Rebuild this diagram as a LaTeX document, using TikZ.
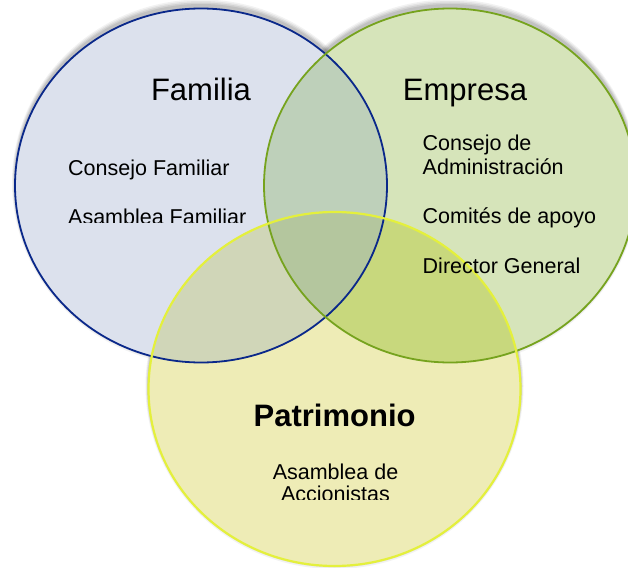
\documentclass[tikz,border=0pt]{standalone}
\usepackage{fontspec}
\setmainfont{Liberation Sans}
\definecolor{famfill}{RGB}{220,225,237}
\definecolor{famline}{RGB}{10,40,138}
\definecolor{empfill}{RGB}{214,228,186}
\definecolor{empline}{RGB}{118,163,30}
\definecolor{patfill}{RGB}{238,236,182}
\definecolor{patline}{RGB}{228,240,60}
\definecolor{fe}{RGB}{190,208,186}
\definecolor{fp}{RGB}{208,214,184}
\definecolor{ep}{RGB}{200,216,125}
\definecolor{fep}{RGB}{180,198,158}
\tikzset{
  title/.style={font=\fontsize{31}{36}\selectfont, inner sep=0pt, anchor=base},
  item/.style={font=\fontsize{21.5}{23.5}\selectfont, inner sep=0pt, anchor=base west},
  itemc/.style={font=\fontsize{21.5}{23.5}\selectfont, inner sep=0pt, anchor=base},
}
\begin{document}
\begin{tikzpicture}[x=1pt,y=-1pt]
\fill[white] (0,0) rectangle (628,567);
\clip (0,0) rectangle (628,567);
\def\rx{186}\def\ry{177}
\coordinate (cf) at (201,185.5);
\coordinate (ce) at (450,185.5);
\coordinate (cp) at (334.5,389);
% soft shadows
\foreach \d/\o in {6/0.05,4.5/0.06,3/0.07,1.5/0.08}{
  \fill[black,opacity=\o] ([yshift=3]cf) ellipse [x radius=\rx+\d*0.5, y radius=\ry+\d];
  \fill[black,opacity=\o] ([yshift=3]ce) ellipse [x radius=\rx+\d*0.5, y radius=\ry+\d];
  \fill[black,opacity=\o] ([yshift=3]cp) ellipse [x radius=\rx+\d*0.5, y radius=\ry+\d];
}
% fills
\fill[famfill] (cf) ellipse [x radius=\rx, y radius=\ry];
\fill[empfill] (ce) ellipse [x radius=\rx, y radius=\ry];
\fill[patfill] (cp) ellipse [x radius=\rx, y radius=\ry];
\begin{scope}
  \clip (cf) ellipse [x radius=\rx, y radius=\ry];
  \fill[fe] (ce) ellipse [x radius=\rx, y radius=\ry];
  \fill[fp] (cp) ellipse [x radius=\rx, y radius=\ry];
  \clip (ce) ellipse [x radius=\rx, y radius=\ry];
  \fill[fep] (cp) ellipse [x radius=\rx, y radius=\ry];
\end{scope}
\begin{scope}[even odd rule]
  \clip (-10,-10) rectangle (700,600) (cf) ellipse [x radius=\rx, y radius=\ry];
  \clip (ce) ellipse [x radius=\rx, y radius=\ry];
  \fill[ep] (cp) ellipse [x radius=\rx, y radius=\ry];
\end{scope}
% outlines
\draw[famline, line width=1.8pt] (cf) ellipse [x radius=\rx, y radius=\ry];
\draw[empline, line width=1.8pt] (ce) ellipse [x radius=\rx, y radius=\ry];
\draw[patline, line width=2.2pt] (cp) ellipse [x radius=\rx, y radius=\ry];
% titles
\node[title] (tf) at (201,101) {Familia};
\node[title] (te) at (465,101) {Empresa};
\node[title, font=\fontsize{31}{36}\selectfont\bfseries] (tp) at (334.6,426.8) {Patrimonio};
% items
\node[item] (f1) at (68,175) {Consejo Familiar};
\begin{scope}
  \clip (0,0) rectangle (628,222.5);
  \node[item] (f2) at (68,224.8) {Asamblea Familiar};
\end{scope}
\node[item] (e1) at (422.5,150.5) {Consejo de};
\node[item] (e2) at (422.5,174) {Administración};
\node[item] (e3) at (422.5,223) {Comités de apoyo};
\node[item] (e4) at (422.5,273) {Director General};
\node[itemc] (p1) at (335.5,479) {Asamblea de};
\begin{scope}
  \clip (0,0) rectangle (628,499);
  \node[itemc] (p2) at (335.5,501.5) {Accionistas};
\end{scope}
\end{tikzpicture}
\end{document}
